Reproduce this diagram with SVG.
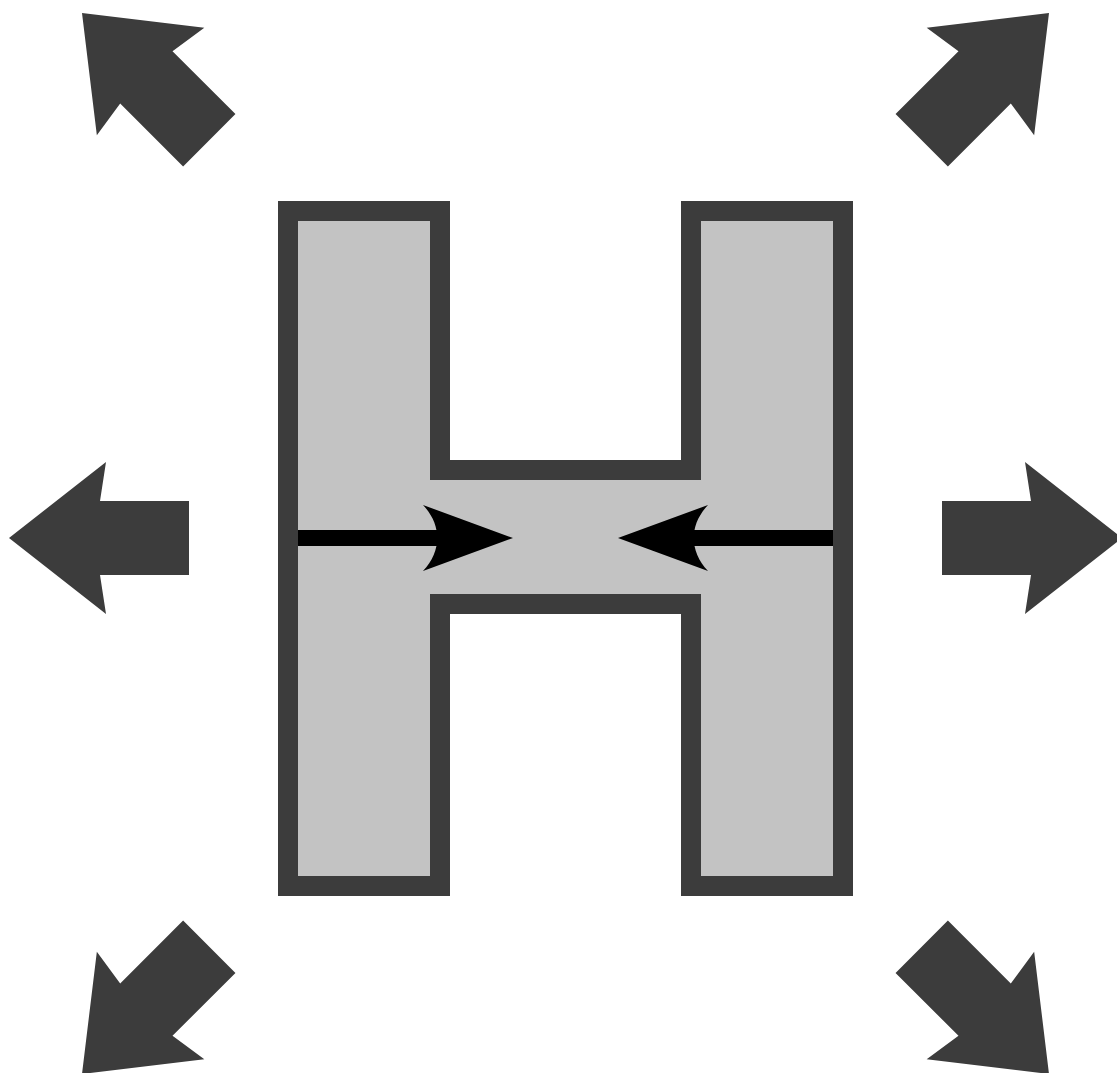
<svg xmlns="http://www.w3.org/2000/svg" xmlns:xlink="http://www.w3.org/1999/xlink" width="1117" height="1073" viewBox="0 0 1117 1073">
<style>
.block{fill:#3c3c3c;stroke:none}
.hshape{fill:#c3c3c3;stroke:#3c3c3c;stroke-width:20;stroke-linejoin:miter}
.shaft{stroke:#000;stroke-width:16;fill:none}
.head{fill:#000;stroke:none}
</style>
<defs>
<path id="bigArrow" d="M0,0 L97,-76 L91,-37 H180 V37 H91 L97,76 Z"/>
</defs>
<rect width="1117" height="1073" fill="#fff"/>
<g id="outward-arrows">
<use id="arrow-left" class="block" xlink:href="#bigArrow" href="#bigArrow" transform="translate(9,538)"/>
<use id="arrow-right" class="block" xlink:href="#bigArrow" href="#bigArrow" transform="translate(1122,538) rotate(180)"/>
<use id="arrow-top-left" class="block" xlink:href="#bigArrow" href="#bigArrow" transform="translate(82,13) rotate(45)"/>
<use id="arrow-top-right" class="block" xlink:href="#bigArrow" href="#bigArrow" transform="translate(1049,13) rotate(135)"/>
<use id="arrow-bottom-left" class="block" xlink:href="#bigArrow" href="#bigArrow" transform="translate(82,1074) rotate(-45)"/>
<use id="arrow-bottom-right" class="block" xlink:href="#bigArrow" href="#bigArrow" transform="translate(1049,1074) rotate(-135)"/>
</g>
<g id="h-shape">
<path class="hshape" d="M288,211 H440 V470 H691 V211 H843 V886 H691 V604 H440 V886 H288 Z"/>
</g>
<g id="connectors">
<line class="shaft" x1="298" y1="538" x2="440" y2="538"/>
<path class="head" d="M423,505 L513,538 L423,571 C442,551 442,525 423,505 Z"/>
<line class="shaft" x1="833" y1="538" x2="691" y2="538"/>
<path class="head" d="M708,505 L618,538 L708,571 C689,551 689,525 708,505 Z"/>
</g>
</svg>
